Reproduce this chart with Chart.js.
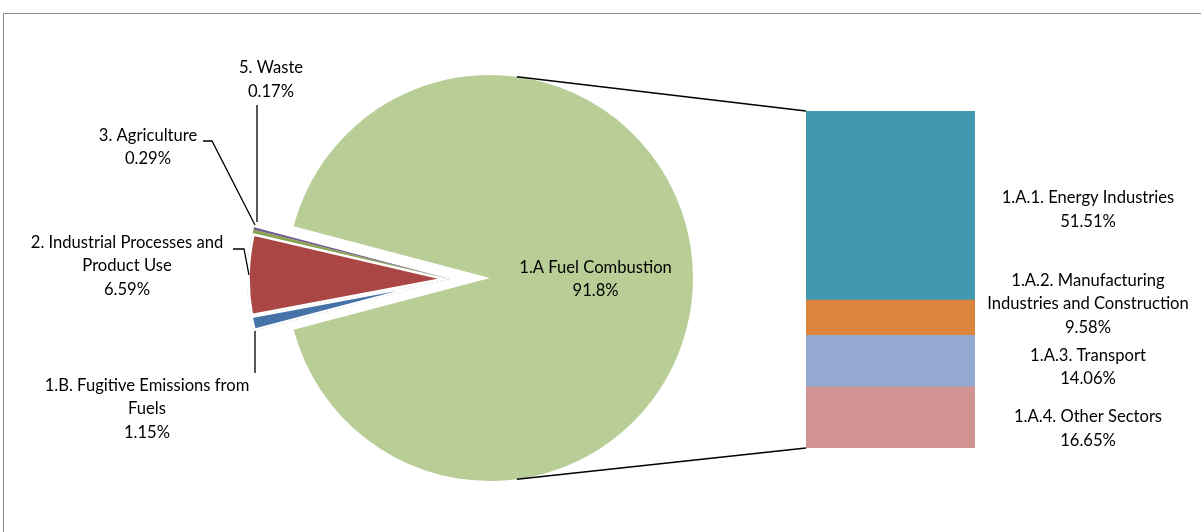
<!DOCTYPE html>
<html>
<head>
<meta charset="utf-8">
<script src="https://cdn.jsdelivr.net/npm/chart.js@4.4.0/dist/chart.umd.min.js"></script>
<style>
  body { margin: 0; background: #fff; width: 1201px; height: 532px; overflow: hidden; position: relative; }
  #frame { position: absolute; left: 3px; top: 13px; width: 1400px; height: 700px; border: 1px solid #8c8c8c; }
  canvas { position: absolute; left: 0; top: 0; }
</style>
</head>
<body>
<div id="frame"></div>
<canvas id="mainPie" width="1201" height="532"></canvas>
<canvas id="subPie" width="1201" height="532"></canvas>
<canvas id="barChart" width="1201" height="532"></canvas>
<script>
// slices split off the pie
const smallLabels = [['1.B. Fugitive Emissions from', 'Fuels'], ['2. Industrial Processes and', 'Product Use'], ['3. Agriculture'], ['5. Waste']];
const smallValues = [1.15, 6.59, 0.29, 0.17];
const smallColors = ['#4572A7', '#AA4643', '#89A54E', '#71588F'];

// the big slice
const mainLabel = ['1.A Fuel Combustion'];
const mainValue = 91.8;
const mainColor = '#B9CD96';

// breakdown of the big slice (stacked bar, top to bottom)
const subLabels = [['1.A.1. Energy Industries'], ['1.A.2. Manufacturing', 'Industries and Construction'], ['1.A.3. Transport'], ['1.A.4. Other Sectors']];
const subValues = [51.51, 9.58, 14.06, 16.65];
const subColors = ['#4198AF', '#DB843D', '#93A9CF', '#D19392'];

const W = 1201, H = 532;
const PIE_R = 203;
const MAIN_C = { x: 490, y: 278 };
const SUB_C = { x: 450, y: 279 };
const BAR_BOX = { left: 806, right: 975, top: 111, bottom: 448 };
const FONT = '16.6px Lato';
const LINE_H = 23.5;

// label block centres and leader lines for the split-off slices
const smallLabelPos = [{ x: 147, y: 409 }, { x: 127, y: 266 }, { x: 148, y: 147 }, { x: 271, y: 79.5 }];
const smallLeaders = [
    [[255, 373], [255, 331]],
    [[233, 249], [244, 249], [249, 275]],
    [[203, 141], [212, 141], [255, 225]],
    [[257, 105], [257, 222]]
];
// vertical nudges of the bar labels away from the segment centre
const barLabelShift = [4, -14, 6, 11];

const smallSum = smallValues.reduce((a, b) => a + b, 0);
const subSum = subValues.reduce((a, b) => a + b, 0);
const gapDeg = smallSum * 3.6;

function padFor(c) {
    return {
        left: c.x > W / 2 ? 2 * c.x - W : 0,
        right: c.x < W / 2 ? W - 2 * c.x : 0,
        top: c.y > H / 2 ? 2 * c.y - H : 0,
        bottom: c.y < H / 2 ? H - 2 * c.y : 0
    }
}

function pct(v) {
    return v + '%';
}

function drawLines(ctx, lines, cx, cy) {
    ctx.save();
    ctx.font = FONT;
    ctx.fillStyle = '#000';
    ctx.textAlign = 'center';
    ctx.textBaseline = 'middle';
    const y0 = cy - (lines.length - 1) * LINE_H / 2;
    lines.forEach((t, i) => ctx.fillText(t, cx, y0 + i * LINE_H));
    ctx.restore();
}

function baseOptions(extra) {
    return Object.assign({
        responsive: false,
        animation: false,
        events: [],
        plugins: { legend: { display: false }, tooltip: { enabled: false } }
    }, extra);
}

const mainChart = new Chart(document.getElementById('mainPie').getContext('2d'), {
    type: 'pie',
    data: {
        labels: [mainLabel.join(' '), 'rest'],
        datasets: [{
            data: [mainValue, smallSum],
            backgroundColor: [mainColor, 'rgba(0,0,0,0)'],
            borderWidth: 0,
            radius: PIE_R
        }]
    },
    options: baseOptions({ rotation: 270 + gapDeg / 2, layout: { padding: padFor(MAIN_C) } }),
    plugins: [{
        id: 'mainLabel',
        afterDatasetsDraw(chart) {
            const arc = chart.getDatasetMeta(0).data[0];
            drawLines(chart.ctx, mainLabel.concat([pct(mainValue)]), arc.x + arc.outerRadius * 0.52, arc.y + 1);
        }
    }]
});

new Chart(document.getElementById('subPie').getContext('2d'), {
    type: 'pie',
    data: {
        labels: smallLabels.map(l => l.join(' ')).concat(['rest']),
        datasets: [{
            data: smallValues.concat([mainValue]),
            backgroundColor: smallColors.concat(['rgba(0,0,0,0)']),
            borderColor: '#fff',
            borderAlign: 'inner',
            borderWidth: [2, 2.5, 0, 0, 0],
            radius: PIE_R
        }]
    },
    options: baseOptions({ rotation: 270 - gapDeg / 2, layout: { padding: padFor(SUB_C) } }),
    plugins: [{
        id: 'smallLabels',
        afterDatasetsDraw(chart) {
            const ctx = chart.ctx;
            ctx.save();
            ctx.strokeStyle = '#000';
            ctx.lineWidth = 1.3;
            smallLeaders.forEach(pts => {
                ctx.beginPath();
                pts.forEach((p, i) => i ? ctx.lineTo(p[0], p[1]) : ctx.moveTo(p[0], p[1]));
                ctx.stroke();
            });
            ctx.restore();
            smallLabels.forEach((l, i) => {
                drawLines(ctx, l.concat([pct(smallValues[i])]), smallLabelPos[i].x, smallLabelPos[i].y);
            });
        }
    }]
});

new Chart(document.getElementById('barChart').getContext('2d'), {
    type: 'bar',
    data: {
        labels: ['1.A'],
        datasets: subValues.map((v, i) => ({
            label: subLabels[i].join(' '),
            data: [v],
            backgroundColor: subColors[i],
            borderWidth: 0,
            barPercentage: 1,
            categoryPercentage: 1
        })).reverse()
    },
    options: baseOptions({
        layout: { padding: { left: BAR_BOX.left, right: W - BAR_BOX.right, top: BAR_BOX.top, bottom: H - BAR_BOX.bottom } },
        scales: {
            x: { display: false, stacked: true },
            y: { display: false, stacked: true, min: 0, max: subSum }
        }
    }),
    plugins: [{
        id: 'barLabelsAndLinks',
        afterDatasetsDraw(chart) {
            const ctx = chart.ctx;
            const n = subValues.length;
            subValues.forEach((v, i) => {
                const bar = chart.getDatasetMeta(n - 1 - i).data[0];
                const cy = (bar.y + bar.base) / 2 + barLabelShift[i];
                drawLines(ctx, subLabels[i].concat([pct(v)]), 1088, cy);
            });
            // connector lines from the pie to the bar
            const arc = mainChart.getDatasetMeta(0).data[0];
            const top = chart.getDatasetMeta(n - 1).data[0];
            const bottom = chart.getDatasetMeta(0).data[0];
            const a = 82.4 * Math.PI / 180;
            const px = arc.x + arc.outerRadius * Math.cos(a);
            const dy = arc.outerRadius * Math.sin(a);
            ctx.save();
            ctx.strokeStyle = '#000';
            ctx.lineWidth = 1.5;
            ctx.beginPath();
            ctx.moveTo(px, arc.y - dy);
            ctx.lineTo(top.x - top.width / 2, top.y);
            ctx.moveTo(px, arc.y + dy);
            ctx.lineTo(bottom.x - bottom.width / 2, bottom.base);
            ctx.stroke();
            ctx.restore();
        }
    }]
});
</script>
</body>
</html>
